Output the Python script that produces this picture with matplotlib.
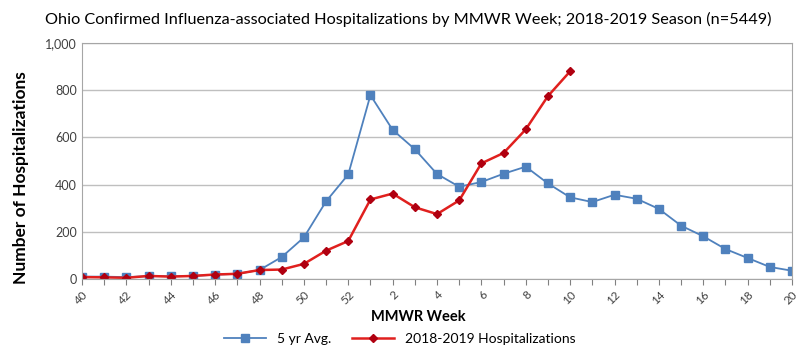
import matplotlib.pyplot as plt
import numpy as np

weeks = [40, 41, 42, 43, 44, 45, 46, 47, 48, 49, 50, 51, 52,
         1, 2, 3, 4, 5, 6, 7, 8, 9, 10, 11, 12, 13, 14, 15, 16, 17, 18, 19, 20]
avg5 = [10, 10, 8, 12, 12, 13, 18, 22, 38, 93, 176, 329, 443,
        779, 632, 550, 445, 391, 411, 446, 476, 405, 346, 326, 357, 340, 297,
        226, 181, 127, 89, 51, 35]
hosp = [8, 7, 5, 13, 10, 13, 19, 22, 38, 40, 64, 120, 161,
        337, 362, 304, 275, 333, 490, 534, 634, 775, 880]

plt.rcParams['font.family'] = ['Lato', 'DejaVu Sans']

fig = plt.figure(figsize=(8, 3.57), dpi=100)
ax = fig.add_axes([0.1025, 0.2185, 0.8875, 0.661])

x = np.arange(len(weeks))
ax.plot(x, avg5, color='#4F81BD', lw=1.3, marker='s', ms=5.5, label='5 yr Avg.')
ax.plot(x[:len(hosp)], hosp, color='#E0201E', lw=1.8, marker='D', ms=4,
        mfc='#B00010', mec='#B00010', label='2018-2019 Hospitalizations')

ax.set_xlim(0, len(weeks) - 1)
ax.set_ylim(0, 1000)
ax.set_yticks(range(0, 1001, 200))
ax.set_yticklabels(['0', '200', '400', '600', '800', '1,000'], fontsize=9, color='#404040')
ax.set_xticks(x)
ax.set_xticklabels([str(w) if i % 2 == 0 else '' for i, w in enumerate(weeks)],
                   rotation=45, fontsize=8.5, color='#404040',
                   ha='right', rotation_mode='anchor')
ax.tick_params(axis='x', length=4, color='#808080', pad=3)
ax.tick_params(axis='y', length=0)
ax.grid(axis='y', color='#BFBFBF', lw=1)
ax.set_axisbelow(True)
for s in ax.spines.values():
    s.set_color('#A6A6A6')

ax.set_xlabel('MMWR Week', fontsize=10.5, fontweight='bold')
ax.xaxis.set_label_coords(0.473, -0.13)
ax.set_ylabel('Number of Hospitalizations', fontsize=12.5, fontweight='bold')
ax.yaxis.set_label_coords(-0.075, 0.43)
fig.text(0.51, 0.945, 'Ohio Confirmed Influenza-associated Hospitalizations by MMWR Week; 2018-2019 Season (n=5449)',
         ha='center', va='center', fontsize=11.7)

fig.legend(loc='center', bbox_to_anchor=(0.5, 0.05), ncol=2, frameon=False,
           fontsize=10, handlelength=3, columnspacing=1.5)

fig.savefig('out.png', dpi=100)
